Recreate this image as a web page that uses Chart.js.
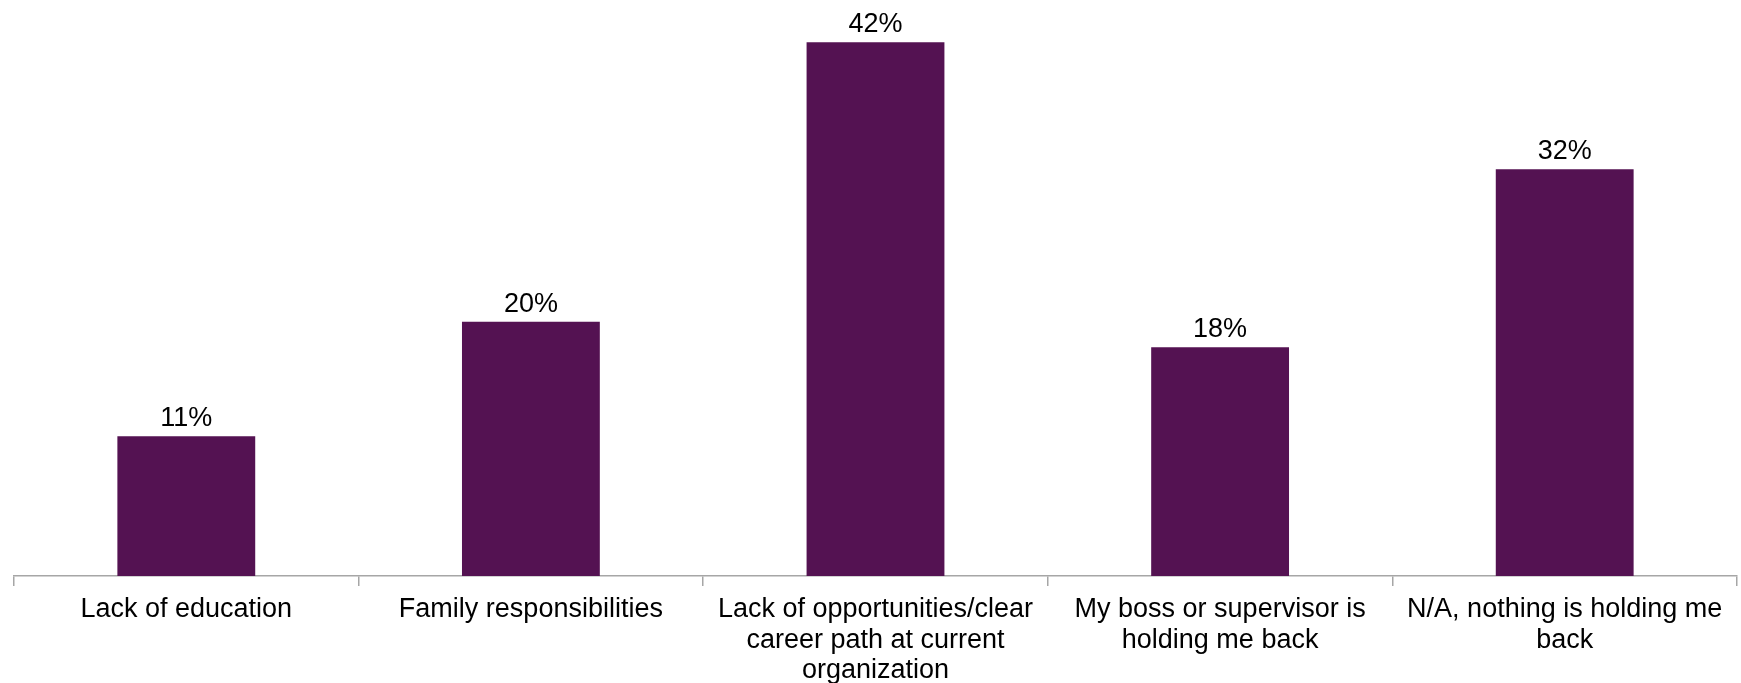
<!DOCTYPE html>
<html>
<head>
<meta charset="utf-8">
<title>What is holding you back</title>
<script src="https://cdn.jsdelivr.net/npm/chart.js@4/dist/chart.umd.min.js"></script>
<style>
  html, body { margin: 0; padding: 0; background: #ffffff; }
  #wrap { width: 1741px; height: 683px; }
</style>
</head>
<body>
<div id="wrap"><canvas id="chart" width="1741" height="683"></canvas></div>
<script>
// Categories (multi-line entries are wrapped as shown under the axis)
const categories = [
  'Lack of education',
  'Family responsibilities',
  ['Lack of opportunities/clear', 'career path at current', 'organization'],
  ['My boss or supervisor is', 'holding me back'],
  ['N/A, nothing is holding me', 'back']
];

// Share of respondents, in percent
const shares = [11, 20, 42, 18, 32];

const BAR_COLOR = '#541252';
const AXIS_COLOR = '#a6a6a6';
const FONT = '"Liberation Sans", Arial, sans-serif';

// Draws the percentage above each bar
const valueLabels = {
  id: 'valueLabels',
  afterDatasetsDraw(chart) {
    const ctx = chart.ctx;
    const meta = chart.getDatasetMeta(0);
    const values = chart.data.datasets[0].data;
    ctx.save();
    ctx.font = '27px ' + FONT;
    ctx.fillStyle = '#000000';
    ctx.textAlign = 'center';
    ctx.textBaseline = 'alphabetic';
    meta.data.forEach((bar, i) => {
      ctx.fillText(values[i] + '%', bar.x, bar.y - 10);
    });
    ctx.restore();
  }
};

new Chart(document.getElementById('chart'), {
  type: 'bar',
  data: {
    labels: categories,
    datasets: [{
      data: shares,
      backgroundColor: BAR_COLOR,
      borderWidth: 0,
      barPercentage: 0.4,
      categoryPercentage: 1.0
    }]
  },
  options: {
    responsive: false,
    animation: false,
    devicePixelRatio: 1,
    layout: { padding: { left: 14, right: 4, top: 4, bottom: 0 } },
    plugins: {
      legend: { display: false },
      tooltip: { enabled: false }
    },
    scales: {
      x: {
        offset: true,
        grid: {
          offset: true,
          drawOnChartArea: false,
          drawTicks: true,
          tickLength: 10,
          color: AXIS_COLOR,
          lineWidth: 1.5
        },
        border: { display: true, color: AXIS_COLOR, width: 1.5 },
        ticks: {
          autoSkip: false,
          maxRotation: 0,
          minRotation: 0,
          padding: 8,
          color: '#000000',
          font: { family: FONT, size: 27, lineHeight: 1.14 }
        },
        afterFit(scale) { scale.height = 107; }
      },
      y: {
        display: false,
        min: 0,
        max: 45
      }
    }
  },
  plugins: [valueLabels]
});
</script>
</body>
</html>
